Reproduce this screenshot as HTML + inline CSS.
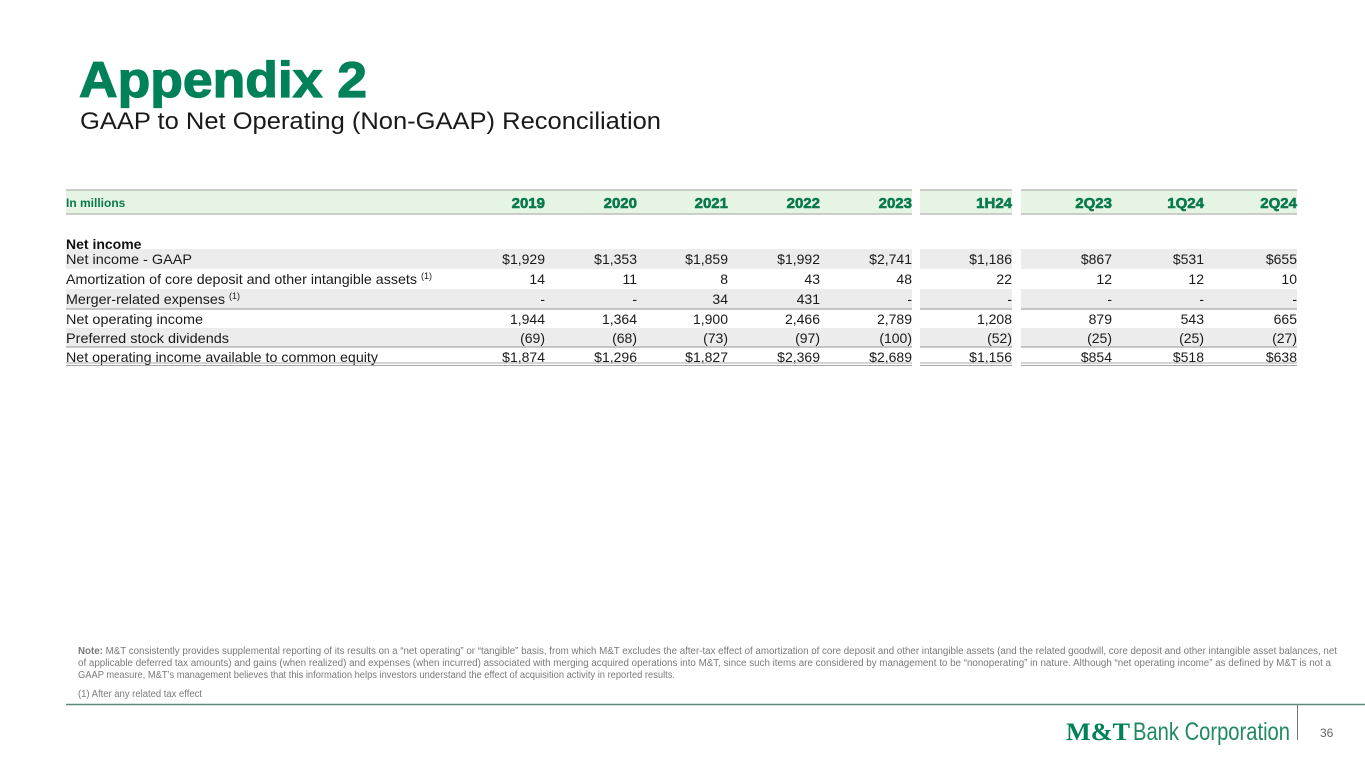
<!DOCTYPE html>
<html><head><meta charset="utf-8"><style>
body{margin:0;width:1365px;height:768px;overflow:hidden;background:#fff;font-family:"Liberation Sans",sans-serif;}
svg{position:absolute;left:0;top:0}
</style></head><body>
<svg width="1365" height="768" id="s" font-family="Liberation Sans, sans-serif">
<text x="79" y="97" font-size="50" font-weight="900" fill="#00815a" stroke="#00815a" stroke-width="1.2" textLength="288" lengthAdjust="spacingAndGlyphs">Appendix 2</text>
<text x="80" y="129" font-size="24" fill="#1a1a1a" textLength="581" lengthAdjust="spacingAndGlyphs">GAAP to Net Operating (Non-GAAP) Reconciliation</text>
<g id="tbl"></g>
<g fill="#7a7a7a" font-size="10">
<text x="78" y="654" textLength="1259" lengthAdjust="spacingAndGlyphs"><tspan font-weight="bold">Note:</tspan> M&amp;T consistently provides supplemental reporting of its results on a “net operating” or “tangible” basis, from which M&amp;T excludes the after-tax effect of amortization of core deposit and other intangible assets (and the related goodwill, core deposit and other intangible asset balances, net</text>
<text x="78" y="666" textLength="1253" lengthAdjust="spacingAndGlyphs">of applicable deferred tax amounts) and gains (when realized) and expenses (when incurred) associated with merging acquired operations into M&amp;T, since such items are considered by management to be “nonoperating” in nature. Although “net operating income” as defined by M&amp;T is not a</text>
<text x="78" y="678" textLength="597" lengthAdjust="spacingAndGlyphs">GAAP measure, M&amp;T’s management believes that this information helps investors understand the effect of acquisition activity in reported results.</text>
<text x="78" y="697" textLength="124" lengthAdjust="spacingAndGlyphs">(1) After any related tax effect</text>
</g>
<line x1="66" y1="704.5" x2="1365" y2="704.5" stroke="#5f8a78" stroke-width="1.5"/>
<line x1="1297.5" y1="705" x2="1297.5" y2="740" stroke="#777" stroke-width="1"/>
<g fill="#00815a">
<text x="1066" y="740" font-size="25" font-family="Liberation Serif, serif" font-weight="bold" textLength="64" lengthAdjust="spacingAndGlyphs">M&amp;T</text>
<text x="1133" y="740" font-size="25" font-weight="normal" textLength="157" lengthAdjust="spacingAndGlyphs" fill="#1f8a60">Bank Corporation</text>
</g>
<text x="1320" y="737" font-size="12" fill="#666">36</text>
</svg>
<script>
const columns=["2019","2020","2021","2022","2023","1H24","2Q23","1Q24","2Q24"];
const rowLabels=["Net income - GAAP","Amortization of core deposit and other intangible assets","Merger-related expenses","Net operating income","Preferred stock dividends","Net operating income available to common equity"];
const rowSup=[false,true,true,false,false,false];
const rowGAAP=["$1,929","$1,353","$1,859","$1,992","$2,741","$1,186","$867","$531","$655"];
const rowAmort=["14","11","8","43","48","22","12","12","10"];
const rowMerger=["-","-","34","431","-","-","-","-","-"];
const rowNOI=["1,944","1,364","1,900","2,466","2,789","1,208","879","543","665"];
const rowPref=["(69)","(68)","(73)","(97)","(100)","(52)","(25)","(25)","(27)"];
const rowAvail=["$1,874","$1,296","$1,827","$2,369","$2,689","$1,156","$854","$518","$638"];
const rows=[rowGAAP,rowAmort,rowMerger,rowNOI,rowPref,rowAvail];
const NS="http://www.w3.org/2000/svg";
const g=document.getElementById('tbl');
function el(t,a,txt){const e=document.createElementNS(NS,t);for(const k in a)e.setAttribute(k,a[k]);if(txt!==undefined)e.textContent=txt;g.appendChild(e);return e;}
const colRight=[545,637,728,820,912,1012,1112,1204,1297];
const segs=[[66,912],[920,1012],[1021,1297]];
const rowTop=[249,269,289,309,328,347];const rowH=[20,20,20,19,19,17];
const labelW=[126,351,159,137,163,312];
segs.forEach(s=>{let r=el('rect',{x:s[0],y:190,width:s[1]-s[0],height:24,fill:'#e6f4e3'});

el('line',{x1:s[0],y1:190,x2:s[1],y2:190,stroke:'#bdbdbd','stroke-width':1.5});
el('line',{x1:s[0],y1:214,x2:s[1],y2:214,stroke:'#bdbdbd','stroke-width':1.5});});
let hl=el('text',{x:66,y:207,'font-size':12,'font-weight':'bold',fill:'#0a7a4e'},'In millions');

columns.forEach((c,i)=>{let t=el('text',{x:colRight[i],y:208,'font-size':15,'font-weight':'900',fill:'#0a7a4e',stroke:'#0a7a4e','stroke-width':0.6,'text-anchor':'end'},c);
});
let sec=el('text',{x:66,y:249,'font-size':14,'font-weight':'bold',fill:'#111'},'Net income');

rows.forEach((vals,r)=>{
 if(r%2===0){segs.forEach(s=>{let b=el('rect',{x:s[0],y:rowTop[r],width:s[1]-s[0],height:rowH[r],fill:'#ececec'});});}
 const ty=rowTop[r]+15;
 let lt=el('text',{x:66,y:ty,'font-size':14,fill:'#1a1a1a',textLength:labelW[r],lengthAdjust:'spacingAndGlyphs'},rowLabels[r]);
 
 if(rowSup[r]){let sp=el('text',{x:66+labelW[r]+4,y:ty-5,'font-size':9,fill:'#1a1a1a'},'(1)');}
 vals.forEach((v,i)=>{let t=el('text',{x:colRight[i],y:ty,'font-size':14,fill:'#1a1a1a','text-anchor':'end'},v);
 });
});
segs.forEach(s=>{
 el('line',{x1:s[0],y1:309,x2:s[1],y2:309,stroke:'#a8a8a8','stroke-width':1.2});
 el('line',{x1:s[0],y1:347,x2:s[1],y2:347,stroke:'#a8a8a8','stroke-width':1.2});
 el('line',{x1:s[0],y1:363,x2:s[1],y2:363,stroke:'#a8a8a8','stroke-width':1});
 el('line',{x1:s[0],y1:365.5,x2:s[1],y2:365.5,stroke:'#a8a8a8','stroke-width':1});
});
</script>
</body></html>
